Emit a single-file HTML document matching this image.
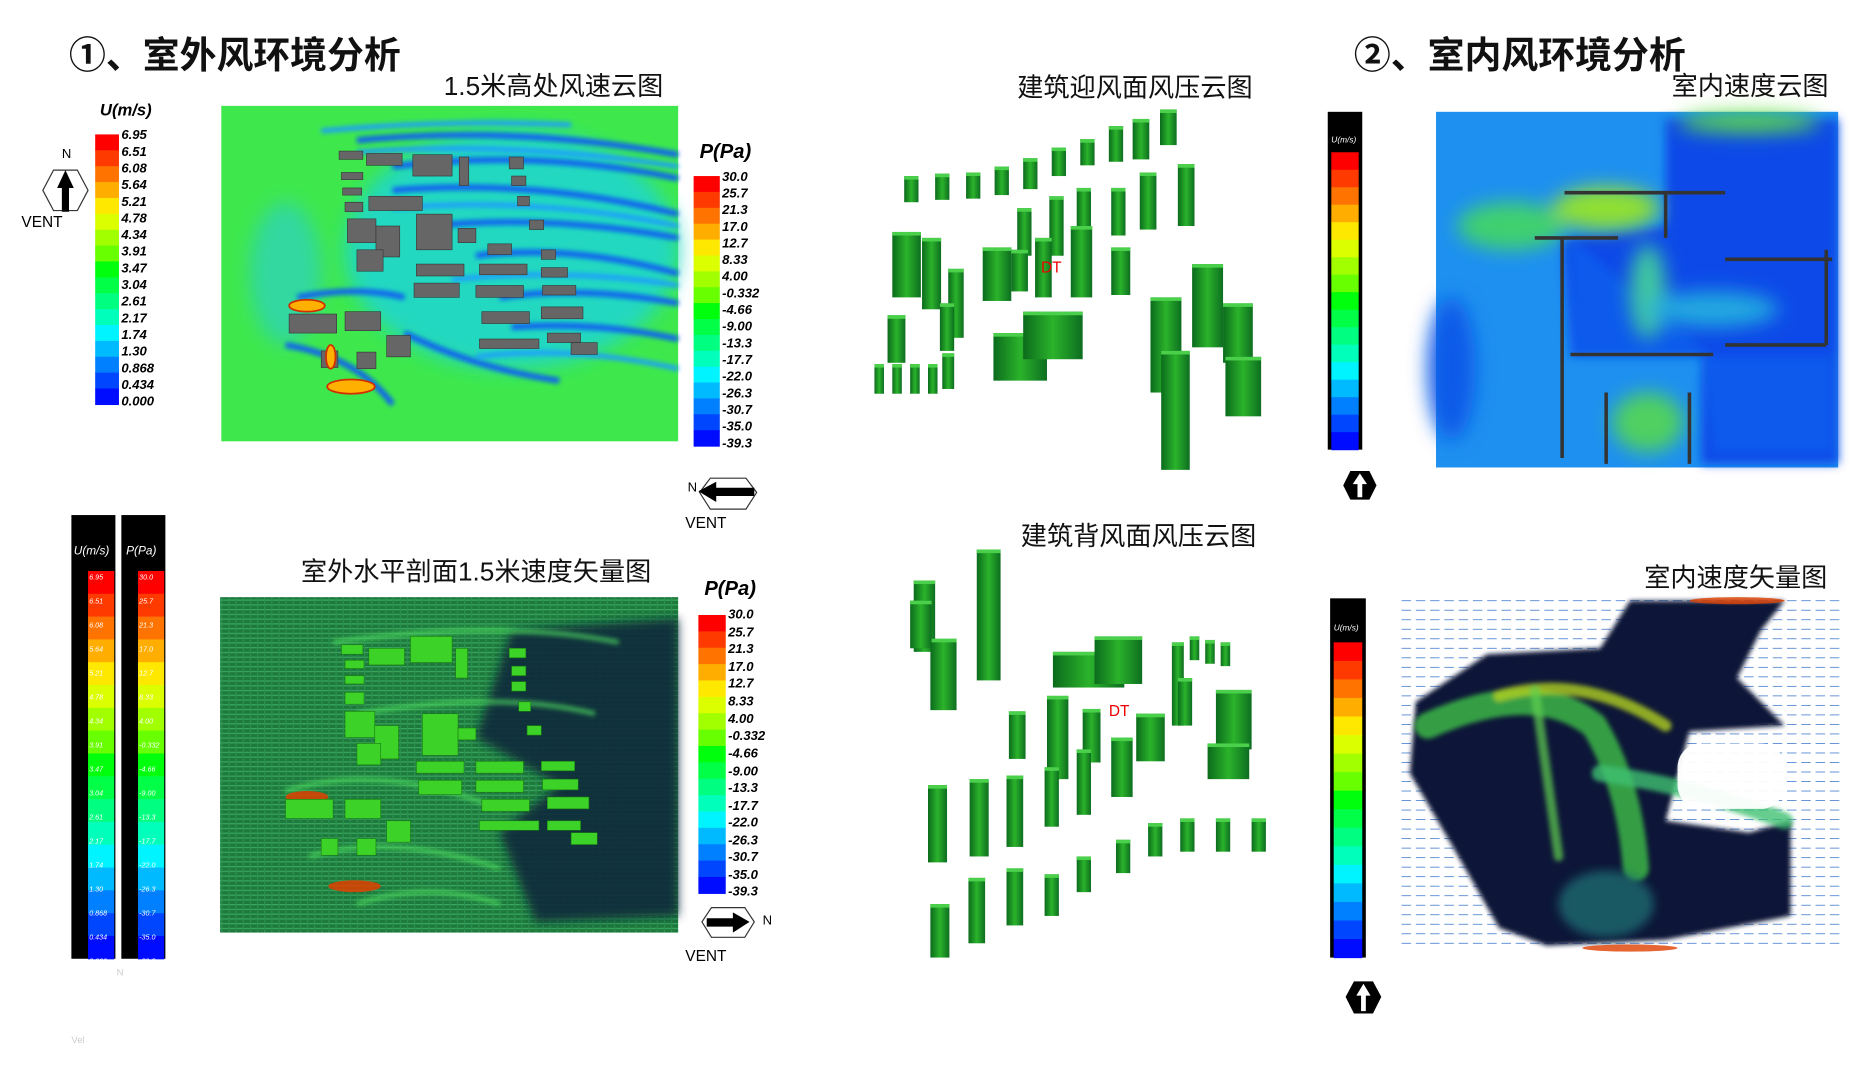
<!DOCTYPE html>
<html><head><meta charset="utf-8"><style>
html,body{margin:0;padding:0;background:#fff;}
svg{display:block;}
text{font-family:"Liberation Sans","Noto Sans CJK SC",sans-serif;}
.t{font-size:22px;fill:#111;}
.h{font-size:31px;font-weight:bold;fill:#111;}
.lg{font-size:11px;font-style:italic;font-weight:bold;fill:#000;}
.sm{font-size:6px;fill:#fff;font-style:italic;}
</style></head><body>
<svg id="s" width="1856" height="1067" viewBox="0 0 1560 897" preserveAspectRatio="none" xmlns="http://www.w3.org/2000/svg">
<defs>
<filter id="b2"><feGaussianBlur stdDeviation="2"/></filter>
<filter id="b4"><feGaussianBlur stdDeviation="4"/></filter>
<filter id="b8"><feGaussianBlur stdDeviation="8"/></filter>
<pattern id="hl" width="6" height="4" patternUnits="userSpaceOnUse"><rect width="6" height="4" fill="#1d7a3c"/><rect width="6" height="1" fill="#3aa860"/><rect width="1" height="4" fill="#2a9050"/></pattern>
<linearGradient id="bg3" x1="0" x2="1"><stop offset="0" stop-color="#0b6b1c"/><stop offset=".5" stop-color="#2bb32b"/><stop offset="1" stop-color="#0d6e20"/></linearGradient>
</defs>

<text class="h" x="58" y="57">①、室外风环境分析</text>
<text class="h" x="1138" y="57">②、室内风环境分析</text>
<text class="t" x="373" y="80">1.5米高处风速云图</text>
<text class="t" x="855" y="81">建筑迎风面风压云图</text>
<text class="t" x="1405" y="80">室内速度云图</text>
<text class="t" x="253" y="488">室外水平剖面1.5米速度矢量图</text>
<text class="t" x="858" y="458">建筑背风面风压云图</text>
<text class="t" x="1382" y="493">室内速度矢量图</text>

<!-- Panel 1 contour -->
<g>
<rect x="186" y="89" width="384" height="282" fill="#3ee84c"/>
<g filter="url(#b8)">
<ellipse cx="430" cy="210" rx="140" ry="100" fill="#20d8c0"/>
<ellipse cx="240" cy="230" rx="30" ry="60" fill="#30d8a0"/>
</g>
<g stroke="#1060f0" stroke-width="5" fill="none" filter="url(#b2)">
<path d="M300 118 Q430 105 570 130"/><path d="M330 140 Q450 125 570 150"/><path d="M330 160 Q450 150 570 180"/><path d="M360 190 Q460 180 570 200"/><path d="M400 215 Q480 205 570 230"/><path d="M420 250 Q490 240 570 255"/><path d="M430 275 Q500 270 570 285"/><path d="M340 280 Q400 310 470 320"/><path d="M240 290 Q300 300 330 340"/><path d="M250 250 Q300 240 340 250"/>
</g>
<g stroke="#1a9cff" stroke-width="4" fill="none" filter="url(#b2)">
<path d="M300 128 Q430 118 570 140"/><path d="M330 175 Q450 165 570 190"/><path d="M380 235 Q480 225 570 240"/><path d="M400 300 Q480 290 570 310"/><path d="M270 110 Q380 100 480 105"/>
</g>
<g fill="#666" stroke="#333" stroke-width=".5">
<rect x="285" y="127" width="20" height="7"/><rect x="308" y="129" width="30" height="10"/><rect x="347" y="130" width="33" height="18"/><rect x="386" y="132" width="8" height="24"/><rect x="428" y="132" width="12" height="10"/>
<rect x="287" y="145" width="18" height="6"/><rect x="288" y="158" width="16" height="6"/><rect x="290" y="170" width="15" height="8"/><rect x="310" y="165" width="45" height="12"/><rect x="430" y="148" width="12" height="8"/><rect x="435" y="165" width="10" height="8"/><rect x="445" y="185" width="12" height="8"/>
<rect x="292" y="184" width="24" height="20"/><rect x="316" y="190" width="20" height="26"/><rect x="350" y="180" width="30" height="30"/><rect x="385" y="192" width="15" height="12"/><rect x="410" y="205" width="20" height="9"/><rect x="455" y="210" width="12" height="8"/>
<rect x="300" y="210" width="22" height="18"/><rect x="350" y="222" width="40" height="10"/><rect x="403" y="222" width="40" height="9"/><rect x="455" y="225" width="22" height="8"/>
<rect x="348" y="238" width="38" height="12"/><rect x="400" y="240" width="40" height="10"/><rect x="456" y="240" width="28" height="8"/>
<rect x="243" y="264" width="40" height="16"/><rect x="290" y="262" width="30" height="16"/><rect x="405" y="262" width="40" height="10"/><rect x="455" y="258" width="35" height="10"/>
<rect x="325" y="282" width="20" height="18"/><rect x="270" y="295" width="14" height="14"/><rect x="300" y="296" width="16" height="14"/><rect x="403" y="285" width="50" height="8"/><rect x="460" y="280" width="28" height="8"/><rect x="480" y="288" width="22" height="10"/>
</g>
<g fill="#ffb000" stroke="#d03000" stroke-width="1.5"><ellipse cx="258" cy="257" rx="15" ry="5"/><ellipse cx="295" cy="325" rx="20" ry="6"/><ellipse cx="278" cy="300" rx="4" ry="10"/></g>
</g>

<text class="lg" x="84" y="97" style="font-size:14px">U(m/s)</text>
<g id="u1"></g>
<g class="lg">
<text x="102" y="117">6.95</text><text x="102" y="131">6.51</text><text x="102" y="145">6.08</text><text x="102" y="159">5.64</text><text x="102" y="173">5.21</text><text x="102" y="187">4.78</text><text x="102" y="201">4.34</text><text x="102" y="215">3.91</text><text x="102" y="229">3.47</text><text x="102" y="243">3.04</text><text x="102" y="257">2.61</text><text x="102" y="271">2.17</text><text x="102" y="285">1.74</text><text x="102" y="299">1.30</text><text x="102" y="313">0.868</text><text x="102" y="327">0.434</text><text x="102" y="341">0.000</text>
</g>
<polygon points="45,143 65,143 74,160 65,177 45,177 36,160" fill="#fff" stroke="#333"/>
<polygon points="55,143 48,158 52,158 52,178 58,178 58,158 62,158" fill="#000"/>
<text x="52" y="133" style="font-size:11px">N</text>
<text x="18" y="191" style="font-size:13px">VENT</text>

<text class="lg" x="588" y="133" style="font-size:17px">P(Pa)</text>
<g id="p1"></g>
<g class="lg">
<text x="607" y="152">30.0</text><text x="607" y="166">25.7</text><text x="607" y="180">21.3</text><text x="607" y="194">17.0</text><text x="607" y="208">12.7</text><text x="607" y="222">8.33</text><text x="607" y="236">4.00</text><text x="607" y="250">-0.332</text><text x="607" y="264">-4.66</text><text x="607" y="278">-9.00</text><text x="607" y="292">-13.3</text><text x="607" y="306">-17.7</text><text x="607" y="320">-22.0</text><text x="607" y="334">-26.3</text><text x="607" y="348">-30.7</text><text x="607" y="362">-35.0</text><text x="607" y="376">-39.3</text>
</g>
<polygon points="597,402 627,402 636,414 627,428 597,428 588,414" fill="#fff" stroke="#333"/>
<polygon points="587,413 602,405 602,410 634,410 634,417 602,417 602,422" fill="#000"/>
<text x="578" y="413" style="font-size:11px">N</text>
<text x="576" y="444" style="font-size:13px">VENT</text>

<g id="bt"></g>
<text x="875" y="229" fill="#e00" style="font-size:13px">DT</text>

<rect x="1116" y="94" width="29" height="284" fill="#000"/>
<g id="r1"></g>
<text x="1119" y="120" class="sm" style="font-size:7px">U(m/s)</text>
<polygon points="1135,396 1151,396 1157,408 1151,420 1135,420 1129,408" fill="#000"/>
<polygon points="1143,398 1137,407 1141,407 1141,418 1145,418 1145,407 1149,407" fill="#fff"/>

<!-- Indoor contour -->
<rect x="1207" y="94" width="338" height="299" fill="#1e90f0"/>
<g filter="url(#b4)">
<path d="M1400 100 L1545 100 L1545 390 L1430 390 L1430 300 L1320 300 L1313 200 L1400 190Z" fill="#0a4ae8"/>
<path d="M1320 200 L1440 300 L1540 300 L1540 380 L1440 380 L1430 300 L1320 300Z" fill="#0c5aec"/>
</g>
<g filter="url(#b8)">
<ellipse cx="1270" cy="190" rx="45" ry="20" fill="#40d070"/>
<ellipse cx="1350" cy="175" rx="45" ry="18" fill="#90e030"/>
<ellipse cx="1385" cy="245" rx="15" ry="40" fill="#40c8a0"/>
<ellipse cx="1440" cy="260" rx="55" ry="15" fill="#20a8e0"/>
<ellipse cx="1385" cy="355" rx="30" ry="25" fill="#50d060"/>
<ellipse cx="1470" cy="103" rx="60" ry="8" fill="#60e040"/>
<ellipse cx="1220" cy="310" rx="20" ry="60" fill="#0a5ae8"/>
</g>
<g stroke="#333" stroke-width="3" fill="none">
<path d="M1315 162 L1450 162"/><path d="M1313 200 L1313 385"/><path d="M1290 200 L1360 200"/><path d="M1450 218 L1540 218"/><path d="M1320 298 L1440 298"/><path d="M1450 290 L1535 290"/><path d="M1350 330 L1350 390"/><path d="M1420 330 L1420 390"/><path d="M1535 210 L1535 290"/><path d="M1400 162 L1400 200"/>
</g>

<rect x="60" y="433" width="37" height="373" fill="#000"/>
<rect x="102" y="433" width="37" height="373" fill="#000"/>
<g id="u2"></g>
<text x="62" y="466" class="sm" style="font-size:10px">U(m/s)</text>
<text x="106" y="466" class="sm" style="font-size:10px">P(Pa)</text>
<g class="sm" id="u2t"></g>

<!-- Vector panel -->
<rect x="185" y="502" width="385" height="282" fill="url(#hl)"/>
<g filter="url(#b4)">
<path d="M430 530 L570 520 L570 770 L450 775 L420 700 L470 660 L400 620Z" fill="#0d2a3a" opacity=".9"/>
</g>
<g stroke="#50e060" stroke-width="4" fill="none" opacity=".7" filter="url(#b2)">
<path d="M280 540 Q420 520 520 540"/><path d="M300 600 Q420 580 500 600"/><path d="M240 665 Q320 640 420 680"/><path d="M260 720 Q330 700 420 730"/><path d="M300 760 Q360 740 420 760"/>
</g>
<g fill="#e04000" opacity=".85"><ellipse cx="258" cy="670" rx="18" ry="5"/><ellipse cx="298" cy="745" rx="22" ry="5"/></g>
<g id="vb" fill="#3cd228" stroke="#1a7a10" stroke-width=".5"></g>

<text class="lg" x="592" y="500" style="font-size:17px">P(Pa)</text>
<g id="p2"></g>
<g class="lg">
<text x="612" y="520">30.0</text><text x="612" y="535">25.7</text><text x="612" y="549">21.3</text><text x="612" y="564">17.0</text><text x="612" y="578">12.7</text><text x="612" y="593">8.33</text><text x="612" y="608">4.00</text><text x="612" y="622">-0.332</text><text x="612" y="637">-4.66</text><text x="612" y="652">-9.00</text><text x="612" y="666">-13.3</text><text x="612" y="681">-17.7</text><text x="612" y="695">-22.0</text><text x="612" y="710">-26.3</text><text x="612" y="724">-30.7</text><text x="612" y="739">-35.0</text><text x="612" y="753">-39.3</text>
</g>
<polygon points="598,763 626,763 634,775 626,788 598,788 590,775" fill="#fff" stroke="#333"/>
<polygon points="630,775 616,767 616,772 594,772 594,779 616,779 616,784" fill="#000"/>
<text x="641" y="777" style="font-size:11px">N</text>
<text x="576" y="808" style="font-size:13px">VENT</text>

<g id="bb"></g>
<text x="932" y="602" fill="#e00" style="font-size:13px">DT</text>

<rect x="1118" y="503" width="30" height="302" fill="#000"/>
<g id="r2"></g>
<text x="1121" y="530" class="sm" style="font-size:7px">U(m/s)</text>
<polygon points="1138,825 1154,825 1161,838 1154,852 1138,852 1131,838" fill="#000"/>
<polygon points="1146,827 1140,837 1144,837 1144,850 1148,850 1148,837 1152,837" fill="#fff"/>

<!-- Indoor vector -->
<g stroke="#4a80d0" stroke-width=".7" id="ivl"></g>
<g filter="url(#b2)">
<path d="M1370 505 L1500 505 L1480 530 L1460 570 L1500 610 L1420 615 L1400 690 L1470 700 L1505 690 L1505 770 L1400 790 L1300 795 L1260 780 L1220 710 L1185 650 L1190 590 L1250 550 L1345 545Z" fill="#0b1638"/>
</g>
<g filter="url(#b2)" fill="none" stroke-linecap="round">
<path d="M1200 610 Q1290 570 1340 610 Q1370 660 1375 730" stroke="#40c048" stroke-width="22" opacity=".8"/>
<path d="M1260 585 Q1330 565 1400 610" stroke="#b0d020" stroke-width="10" opacity=".8"/>
<path d="M1345 650 Q1420 660 1500 690" stroke="#40c070" stroke-width="14" opacity=".8"/>
<path d="M1290 580 Q1300 650 1310 720" stroke="#60d050" stroke-width="8" opacity=".7"/>
</g>
<ellipse cx="1350" cy="760" rx="40" ry="28" fill="#1a6a70" opacity=".8" filter="url(#b4)"/>
<g fill="#e04000" opacity=".8"><ellipse cx="1370" cy="797" rx="40" ry="3"/><ellipse cx="1460" cy="505" rx="40" ry="3"/></g>
<g fill="#fff"><rect x="1410" y="625" width="90" height="55" rx="20" opacity=".95"/></g>

<text x="98" y="820" fill="#ccc" style="font-size:8px">N</text>
<text x="60" y="877" fill="#ccc" style="font-size:8px">Vel</text>
</svg>
<script>
var NS="http://www.w3.org/2000/svg";
function el(p,t,a){var e=document.createElementNS(NS,t);for(var k in a)e.setAttribute(k,a[k]);p.appendChild(e);return e;}
var C=["#ff0000","#ff3a00","#ff7400","#ffae00","#ffe800","#dcff00","#a2ff00","#68ff00","#2eff00","#00ff0c","#00ff46","#00ff80","#00ffba","#00f4ff","#00baff","#0080ff","#0046ff","#000cff"];
function bar(id,x,y,w,h,n){var g=document.getElementById(id);var s=h/n;for(var i=0;i<n;i++){el(g,"rect",{x:x,y:y+i*s,width:w,height:s+.5,fill:C[Math.round(i*(C.length-1)/(n-1))]});}}
bar("u1",80,113,20,227,17);bar("p1",583,148,22,227,17);bar("p2",587,517,23,234,17);
bar("r1",1119,128,23,250,17);bar("r2",1121,540,24,265,17);
bar("u2",74,480,22,326,17);bar("u2",116,480,22,326,17);
function box(g,x,y,w,h,c){el(g,"rect",{x:x,y:y,width:w,height:h,fill:c||"url(#bg3)"});el(g,"rect",{x:x,y:y,width:w,height:3,fill:"#4bd04b"});}
var bt=document.getElementById("bt");
[[760,148,12,22],[786,146,12,22],[812,145,12,22],[836,140,12,24],[860,133,12,26],[884,124,12,24],[908,117,12,22],[932,106,12,30],[952,100,14,34],[975,92,14,30],
[905,158,12,40],[934,158,12,40],[958,145,14,48],[990,138,14,52],[882,165,12,50],[855,175,12,40],
[750,195,24,55],[775,200,16,60],[797,226,13,58],[826,208,24,45],[850,210,14,35],[870,200,14,50],[900,190,18,60],[934,208,16,40],
[746,265,15,40],[790,255,12,40],[735,306,8,25],[750,306,8,25],[765,306,8,25],[780,306,8,25],[792,297,10,30],
[835,280,45,40],[860,262,50,40],[1002,222,26,70],[967,250,26,80],[976,295,24,100],[1028,255,25,50],[1030,300,30,50]].forEach(function(b){box(bt,b[0],b[1],b[2],b[3]);});
var bb=document.getElementById("bb");
[[768,488,18,60],[782,537,22,60],[821,462,20,110],[765,505,18,40],[885,548,60,30],[920,535,40,40],[848,598,14,40],[880,585,18,70],[910,596,15,45],[934,620,18,50],[955,600,24,40],[985,540,10,70],[990,570,12,40],[1022,580,30,50],[1015,625,35,30],[1000,535,8,20],[1013,538,8,20],[1026,540,8,20],
[780,660,16,65],[815,655,16,65],[846,652,14,60],[878,645,12,50],[905,630,12,55],[782,760,16,45],[814,738,14,55],[846,730,14,48],[878,735,12,35],[905,720,12,30],[938,706,12,28],[965,692,12,28],[992,688,12,28],[1022,688,12,28],[1052,688,12,28]].forEach(function(b){box(bb,b[0],b[1],b[2],b[3]);});
var vb=document.getElementById("vb");
[[287,542,18,8],[290,555,16,7],[290,568,16,7],[290,582,16,10],[310,545,30,14],[345,535,35,22],[383,545,10,25],[428,545,14,8],[430,560,12,8],[430,573,12,8],[436,590,10,8],[443,610,12,8],
[290,598,25,22],[315,610,20,28],[355,600,30,35],[385,612,15,10],[300,625,20,18],[350,640,40,10],[400,640,40,10],[455,640,28,8],[352,656,36,12],[400,656,40,10],[456,655,30,9],[240,672,40,16],[290,672,30,16],[405,672,40,10],[460,670,35,10],[325,690,20,18],[270,705,14,14],[300,705,16,14],[403,690,50,8],[460,690,28,8],[480,700,22,10]].forEach(function(b){el(vb,"rect",{x:b[0],y:b[1],width:b[2],height:b[3]});});
var u2t=document.getElementById("u2t");
var L1=["6.95","6.51","6.08","5.64","5.21","4.78","4.34","3.91","3.47","3.04","2.61","2.17","1.74","1.30","0.868","0.434","0.000"];
var L2=["30.0","25.7","21.3","17.0","12.7","8.33","4.00","-0.332","-4.66","-9.00","-13.3","-17.7","-22.0","-26.3","-30.7","-35.0","-39.3"];
for(var i=0;i<17;i++){var t=el(u2t,"text",{x:75,y:487+i*20.2});t.textContent=L1[i];t=el(u2t,"text",{x:117,y:487+i*20.2});t.textContent=L2[i];}
var iv=document.getElementById("ivl");
for(var y=505;y<800;y+=8){for(var x=1178;x<1545;x+=12){el(iv,"line",{x1:x,y1:y,x2:x+8,y2:y});}}
</script>
</body></html>
